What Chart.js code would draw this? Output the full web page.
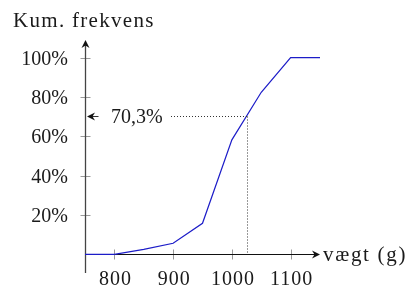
<!DOCTYPE html>
<html>
<head>
<meta charset="utf-8">
<script src="https://cdn.jsdelivr.net/npm/chart.js@4.4.1/dist/chart.umd.min.js"></script>
<style>
  html, body { margin: 0; padding: 0; background: #fff; }
  #wrap { width: 411px; height: 286px; }
</style>
</head>
<body>
<div id="wrap"><canvas id="myChart" width="411" height="286"></canvas></div>
<script>
// vægt (g) og kumuleret frekvens i %
const vaegt = [750, 800, 850, 900, 950, 1000, 1050, 1100, 1150];
const kumFrekvens = [0, 0, 2.5, 5.6, 15.8, 58.2, 82.4, 100, 100];
const xTicks = [800, 900, 1000, 1100];
const yTicks = [20, 40, 60, 80, 100];
const yTickLabels = ['20%', '40%', '60%', '80%', '100%'];
const aflaesning = { x: 1025, y: 70.3, label: '70,3%' };

const FONT = '20px "Liberation Serif", serif';
const FONT_STOR = '21px "Liberation Serif", serif';
const TXT = '#1a1a1a';

function pil(ctx, x, y, angle, color) {
    ctx.save();
    ctx.translate(x, y);
    ctx.rotate(angle);
    ctx.fillStyle = color;
    ctx.beginPath();
    ctx.moveTo(0, 0);
    ctx.lineTo(-8, -4);
    ctx.lineTo(-5.5, 0);
    ctx.lineTo(-8, 4);
    ctx.closePath();
    ctx.fill();
    ctx.restore();
}

const akser = {
    id: 'akser',
    beforeDatasetsDraw(chart) {
        const ctx = chart.ctx;
        const xs = chart.scales.x, ys = chart.scales.y;
        const x0 = Math.round(xs.getPixelForValue(750)) + 0.5;
        const y0 = Math.round(ys.getPixelForValue(0)) + 0.5;
        ctx.save();
        // ticks
        ctx.strokeStyle = '#9a9a9a';
        ctx.lineWidth = 1;
        xTicks.forEach(t => {
            const px = Math.round(xs.getPixelForValue(t)) + 0.5;
            ctx.beginPath();
            ctx.moveTo(px, y0 - 5);
            ctx.lineTo(px, y0 + 5);
            ctx.stroke();
        });
        yTicks.forEach(t => {
            const py = Math.round(ys.getPixelForValue(t)) + 0.5;
            ctx.beginPath();
            ctx.moveTo(x0 - 5, py);
            ctx.lineTo(x0 + 5, py);
            ctx.stroke();
        });
        // y-akse
        const yTop = ys.getPixelForValue(109);
        ctx.strokeStyle = '#444';
        ctx.lineWidth = 1.3;
        ctx.beginPath();
        ctx.moveTo(x0, ys.getPixelForValue(-9.5));
        ctx.lineTo(x0, yTop + 4);
        ctx.stroke();
        pil(ctx, x0, yTop, -Math.PI / 2, '#111');
        // x-akse
        const xEnd = xs.getPixelForValue(1150);
        ctx.strokeStyle = '#111';
        ctx.lineWidth = 1.1;
        ctx.beginPath();
        ctx.moveTo(x0, y0);
        ctx.lineTo(xEnd - 4, y0);
        ctx.stroke();
        pil(ctx, xEnd, y0, 0, '#111');

        // tekster
        ctx.fillStyle = TXT;
        ctx.font = FONT;
        ctx.textAlign = 'right';
        ctx.textBaseline = 'alphabetic';
        yTicks.forEach((t, i) => {
            ctx.fillText(yTickLabels[i], 68, ys.getPixelForValue(t) + 7);
        });
        ctx.textAlign = 'center';
        ctx.letterSpacing = '1px';
        xTicks.forEach(t => {
            ctx.fillText(String(t), xs.getPixelForValue(t) + 1, y0 + 30);
        });
        ctx.font = FONT_STOR;
        ctx.letterSpacing = '1.7px';
        ctx.textAlign = 'left';
        ctx.fillText('vægt (g)', xEnd + 3, y0 + 6);
        ctx.letterSpacing = '1.3px';
        ctx.fillText('Kum. frekvens', 13, 27);
        ctx.restore();
    },
    afterDatasetsDraw(chart) {
        const ctx = chart.ctx;
        const xs = chart.scales.x, ys = chart.scales.y;
        const x0 = Math.round(xs.getPixelForValue(750)) + 0.5;
        const y0 = ys.getPixelForValue(0);
        const px = Math.round(xs.getPixelForValue(aflaesning.x)) + 0.5;
        const py = Math.round(ys.getPixelForValue(aflaesning.y)) + 0.5;
        ctx.save();
        ctx.strokeStyle = '#333';
        ctx.lineWidth = 1;
        ctx.setLineDash([1, 2]);
        ctx.beginPath();
        ctx.moveTo(171, py);
        ctx.lineTo(px, py);
        ctx.moveTo(px, py);
        ctx.lineTo(px, y0);
        ctx.stroke();
        ctx.setLineDash([]);
        // pil mod y-aksen
        ctx.beginPath();
        ctx.moveTo(x0 + 13, py);
        ctx.lineTo(x0 + 6, py);
        ctx.stroke();
        pil(ctx, x0 + 1.5, py, Math.PI, '#111');
        ctx.fillStyle = TXT;
        ctx.font = FONT;
        ctx.textAlign = 'left';
        ctx.fillText(aflaesning.label, 111, py + 6);
        ctx.restore();
    }
};

const ctx = document.getElementById('myChart').getContext('2d');
new Chart(ctx, {
    type: 'line',
    data: {
        datasets: [{
            data: vaegt.map((v, i) => ({ x: v, y: kumFrekvens[i] })),
            borderColor: '#1c1cc8',
            borderWidth: 1.2,
            pointRadius: 0,
            tension: 0,
            fill: false
        }]
    },
    options: {
        responsive: false,
        animation: false,
        devicePixelRatio: 1,
        layout: { padding: { left: 85, right: 91, top: 40, bottom: 13 } },
        scales: {
            x: { type: 'linear', min: 750, max: 1150, display: false },
            y: { min: -9.5, max: 109, display: false }
        },
        plugins: {
            legend: { display: false },
            tooltip: { enabled: false }
        }
    },
    plugins: [akser]
});
</script>
</body>
</html>
